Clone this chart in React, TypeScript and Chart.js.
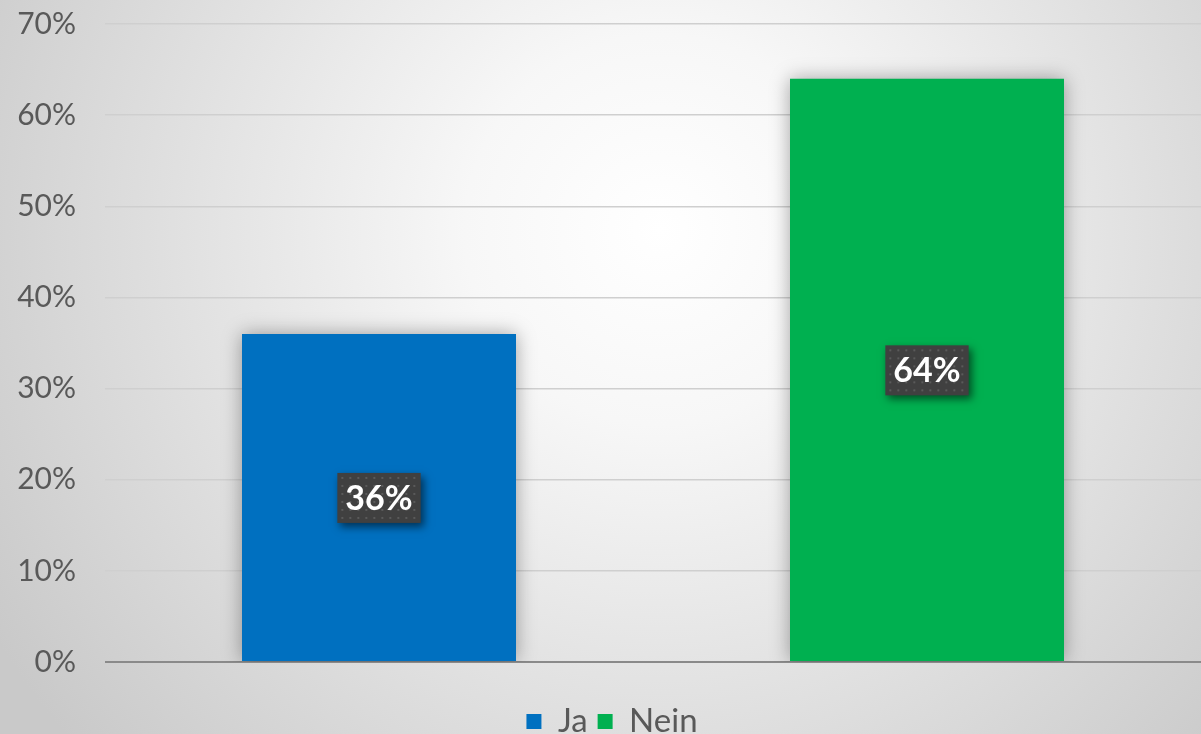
import React, { useEffect, useRef } from "react";
import { Chart, registerables } from "chart.js";

Chart.register(...registerables);

const categories = ["Ja", "Nein"];
const values = [0.36, 0.64];
const colors = ["#0070C0", "#00B050"];
const yTicks = [0, 0.1, 0.2, 0.3, 0.4, 0.5, 0.6, 0.7];

const FONT = "Lato, 'Open Sans', 'DejaVu Sans', sans-serif";

const bgPlugin = {
  id: "bg",
  beforeDraw(chart: any) {
    const { ctx, width, height } = chart;
    ctx.save();
    const g = ctx.createRadialGradient(660, 230, 0, 660, 230, 780);
    g.addColorStop(0, "#ffffff");
    g.addColorStop(0.25, "#f7f7f7");
    g.addColorStop(1, "#c9c9c9");
    ctx.fillStyle = g;
    ctx.fillRect(0, 0, width, height);
    ctx.restore();
  },
};

const shadowPlugin = {
  id: "barShadow",
  beforeDatasetDraw(chart: any) {
    const ctx = chart.ctx;
    ctx.save();
    ctx.shadowColor = "rgba(0,0,0,0.35)";
    ctx.shadowBlur = 18;
    ctx.shadowOffsetX = 0;
    ctx.shadowOffsetY = 0;
  },
  afterDatasetDraw(chart: any) {
    chart.ctx.restore();
  },
};

const labelPlugin = {
  id: "boxLabels",
  afterDatasetsDraw(chart: any) {
    const ctx = chart.ctx;
    const meta = chart.getDatasetMeta(0);
    const yScale = chart.scales.y;
    meta.data.forEach((bar: any, i: number) => {
      const v = values[i];
      const cx = bar.x;
      const cy = yScale.getPixelForValue(v / 2);
      const text = Math.round(v * 100) + "%";
      ctx.save();
      ctx.font = `bold 34px ${FONT}`;
      const tw = ctx.measureText(text).width;
      const w = tw + 16;
      const h = 50;
      const x0 = cx - w / 2;
      const y0 = cy - h / 2;
      ctx.shadowColor = "rgba(0,0,0,0.55)";
      ctx.shadowBlur = 8;
      ctx.shadowOffsetX = 3;
      ctx.shadowOffsetY = 4;
      ctx.fillStyle = "#404040";
      ctx.fillRect(x0, y0, w, h);
      ctx.shadowColor = "transparent";
      ctx.shadowBlur = 0;
      ctx.shadowOffsetX = 0;
      ctx.shadowOffsetY = 0;
      ctx.fillStyle = "#5a5a5a";
      for (let yy = y0 + 4; yy < y0 + h - 2; yy += 8) {
        for (let xx = x0 + 4; xx < x0 + w - 2; xx += 8) {
          ctx.fillRect(xx, yy, 2, 2);
        }
      }
      ctx.fillStyle = "#ffffff";
      ctx.textAlign = "center";
      ctx.textBaseline = "middle";
      ctx.fillText(text, cx, cy + 1);
      ctx.restore();
    });
  },
};

export default function App() {
  const ref = useRef<HTMLCanvasElement | null>(null);
  useEffect(() => {
    document.body.style.margin = "0";
    if (!ref.current) return;
    const chart = new Chart(ref.current, {
      type: "bar",
      data: {
        labels: categories,
        datasets: [
          {
            data: values,
            backgroundColor: colors,
            categoryPercentage: 1,
            barPercentage: 0.5,
          },
        ],
      },
      options: {
        animation: false,
        responsive: false,
        layout: { padding: { left: 17, right: -6, top: 24, bottom: -14 } },
        plugins: {
          tooltip: { enabled: false },
          legend: {
            display: true,
            position: "bottom",
            labels: {
              color: "#595959",
              font: { family: FONT, size: 33 },
              boxWidth: 15,
              boxHeight: 15,
              padding: 10,
              generateLabels: () =>
                categories.map((c, i) => ({
                  text: c,
                  fillStyle: colors[i],
                  strokeStyle: colors[i],
                  lineWidth: 0,
                  hidden: false,
                  index: i,
                  fontColor: "#595959",
                })),
            },
          },
        },
        scales: {
          x: {
            grid: { display: false },
            border: { display: false },
            ticks: { display: false },
            afterFit: (axis: any) => {
              axis.height = 33;
            },
          },
          y: {
            min: 0,
            max: 0.7,
            afterBuildTicks: (axis: any) => {
              axis.ticks = yTicks.map((v) => ({ value: v }));
            },
            afterFit: (axis: any) => {
              axis.width = 88;
              axis.paddingTop = 0;
              axis.paddingBottom = 0;
            },
            border: { display: false },
            grid: {
              drawTicks: false,
              color: (c: any) => (c.tick && c.tick.value === 0 ? "#8a8a8a" : "#cfcfcf"),
              lineWidth: (c: any) => (c.tick && c.tick.value === 0 ? 2 : 1.5),
            },
            ticks: {
              padding: 29,
              color: "#595959",
              font: { family: FONT, size: 30 },
              callback: (v: any) => Math.round(Number(v) * 100) + "%",
            },
          },
        },
      },
      plugins: [bgPlugin, shadowPlugin, labelPlugin],
    });
    return () => chart.destroy();
  }, []);
  return (
    <div style={{ width: 1201, height: 734 }}>
      <canvas ref={ref} width={1201} height={734} style={{ display: "block" }} />
    </div>
  );
}
